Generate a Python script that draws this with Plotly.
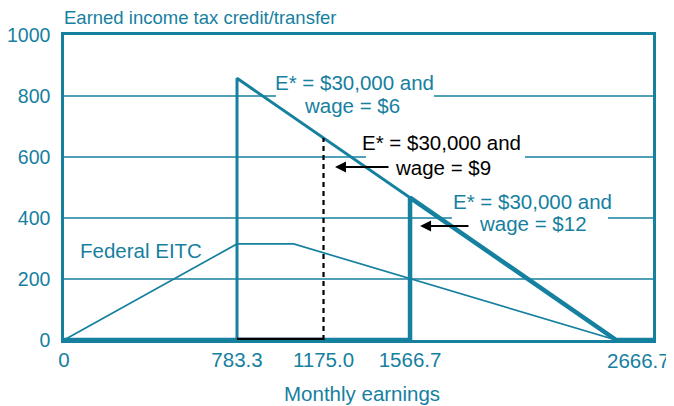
import plotly.graph_objects as go

TEAL = "#16809f"
FONT = "Liberation Sans, Arial, sans-serif"

# x ticks (monthly earnings); the last label is drawn right-aligned below
tick_vals = [0, 783.3, 1175.0, 1566.7]
tick_text = ["0", "783.3", "1175.0", "1566.7"]
x_max = 2666.7
x_max_label = "2666.7"

# federal EITC schedule
eitc_x = [0, 783.3, 1040, 2500, 2666.7]
eitc_y = [0, 315, 315, 0, 0]

# E* = $30,000, wage = $6
w6_x = [0, 783.3, 783.3, 2500, 2666.7]
w6_y = [0, 0, 858.3, 0, 0]

# E* = $30,000, wage = $9
w9_x = [783.3, 1175.0, 1175.0]
w9_y = [0, 0, 662.5]

# E* = $30,000, wage = $12
w12_x = [0, 1566.7, 1566.7, 2500, 2666.7]
w12_y = [0, 0, 466.7, 0, 0]

grid_levels = [200, 400, 600, 800]
# gaps in the gridlines behind the labels
grid_gaps = {800: (960, 1675), 600: (1367, 2087), 400: (1756, 2463)}

fig = go.Figure()

fig.add_trace(go.Scatter(x=w12_x, y=w12_y, mode="lines",
                         line=dict(color=TEAL, width=4.5), cliponaxis=False))
fig.add_trace(go.Scatter(x=w6_x, y=w6_y, mode="lines",
                         line=dict(color=TEAL, width=3), cliponaxis=False))
fig.add_trace(go.Scatter(x=eitc_x, y=eitc_y, mode="lines",
                         line=dict(color=TEAL, width=1.7), cliponaxis=False))
fig.add_trace(go.Scatter(x=w9_x[:2], y=w9_y[:2], mode="lines",
                         line=dict(color="black", width=4.5), cliponaxis=False))
fig.add_trace(go.Scatter(x=w9_x[1:], y=w9_y[1:], mode="lines",
                         line=dict(color="black", width=2.2, dash="5px,4px"),
                         cliponaxis=False))

# gridlines, broken where the labels sit
for lvl in grid_levels:
    if lvl in grid_gaps:
        a, b = grid_gaps[lvl]
        segs = [(0, a), (b, x_max)]
    else:
        segs = [(0, x_max)]
    for x0, x1 in segs:
        fig.add_shape(type="line", xref="x", yref="y", x0=x0, x1=x1, y0=lvl, y1=lvl,
                      line=dict(color=TEAL, width=1.3), layer="below")

# curve labels, one annotation per text line
lab_font = dict(family=FONT, size=20.5, color=TEAL)
blk_font = dict(family=FONT, size=20.5, color="black")
labels = [
    (1317, 843, "E* = $30,000 and", lab_font),
    (1302, 770, "wage = $6", lab_font),
    (1711, 646, "E* = $30,000 and", blk_font),
    (1716, 567, "wage = $9", blk_font),
    (2119, 455, "E* = $30,000 and", lab_font),
    (2123, 382, "wage = $12", lab_font),
    (349, 295, "Federal EITC", lab_font),
]
for lx, ly, txt, f in labels:
    fig.add_annotation(x=lx, y=ly, text=txt, showarrow=False, font=f)

# arrows
for (hx, hy, tx) in [(1227, 567, 1476), (1612, 374, 1838)]:
    fig.add_annotation(x=hx, y=hy, ax=tx, ay=hy, axref="x", ayref="y", text="",
                       showarrow=True, arrowhead=2, arrowsize=1.1, arrowwidth=2,
                       arrowcolor="black")

# last x tick label, pushed left of the frame edge like the original
fig.add_annotation(x=x_max, y=0, yref="paper", xanchor="right", yanchor="middle",
                   xshift=19, yshift=-20, text=x_max_label, showarrow=False,
                   font=dict(family=FONT, size=20.5, color=TEAL))

# axis titles
fig.add_annotation(xref="paper", yref="paper", x=-0.004, y=1.056, xanchor="left",
                   yanchor="middle", text="Earned income tax credit/transfer",
                   showarrow=False, font=dict(family=FONT, size=18.5, color=TEAL))
fig.add_annotation(xref="paper", yref="paper", x=0.506, y=-0.174, xanchor="center",
                   yanchor="middle", text="Monthly earnings",
                   showarrow=False, font=dict(family=FONT, size=20.5, color=TEAL))

# the page body has an 8px margin, so the frame is laid out 8px up/left
fig.update_layout(
    width=674, height=406,
    margin=dict(l=56, r=29, t=27, b=74, autoexpand=False),
    paper_bgcolor="white", plot_bgcolor="white",
    showlegend=False,
    font=dict(family=FONT, size=20, color=TEAL),
)
fig.update_xaxes(range=[0, x_max], tickvals=tick_vals, ticktext=tick_text,
                 showgrid=False, zeroline=False, showline=True, mirror=True,
                 linecolor=TEAL, linewidth=2.5, ticks="", ticklabelstandoff=0,
                 automargin=False, tickfont=dict(family=FONT, size=20.5, color=TEAL))
fig.update_yaxes(range=[0, 1000], tickvals=[0, 200, 400, 600, 800, 1000],
                 showgrid=False, zeroline=False, showline=True, mirror=True,
                 linecolor=TEAL, linewidth=2.5, ticks="", ticklabelstandoff=7,
                 automargin=False, tickfont=dict(family=FONT, size=19.5, color=TEAL))

fig.write_html("out.html")
